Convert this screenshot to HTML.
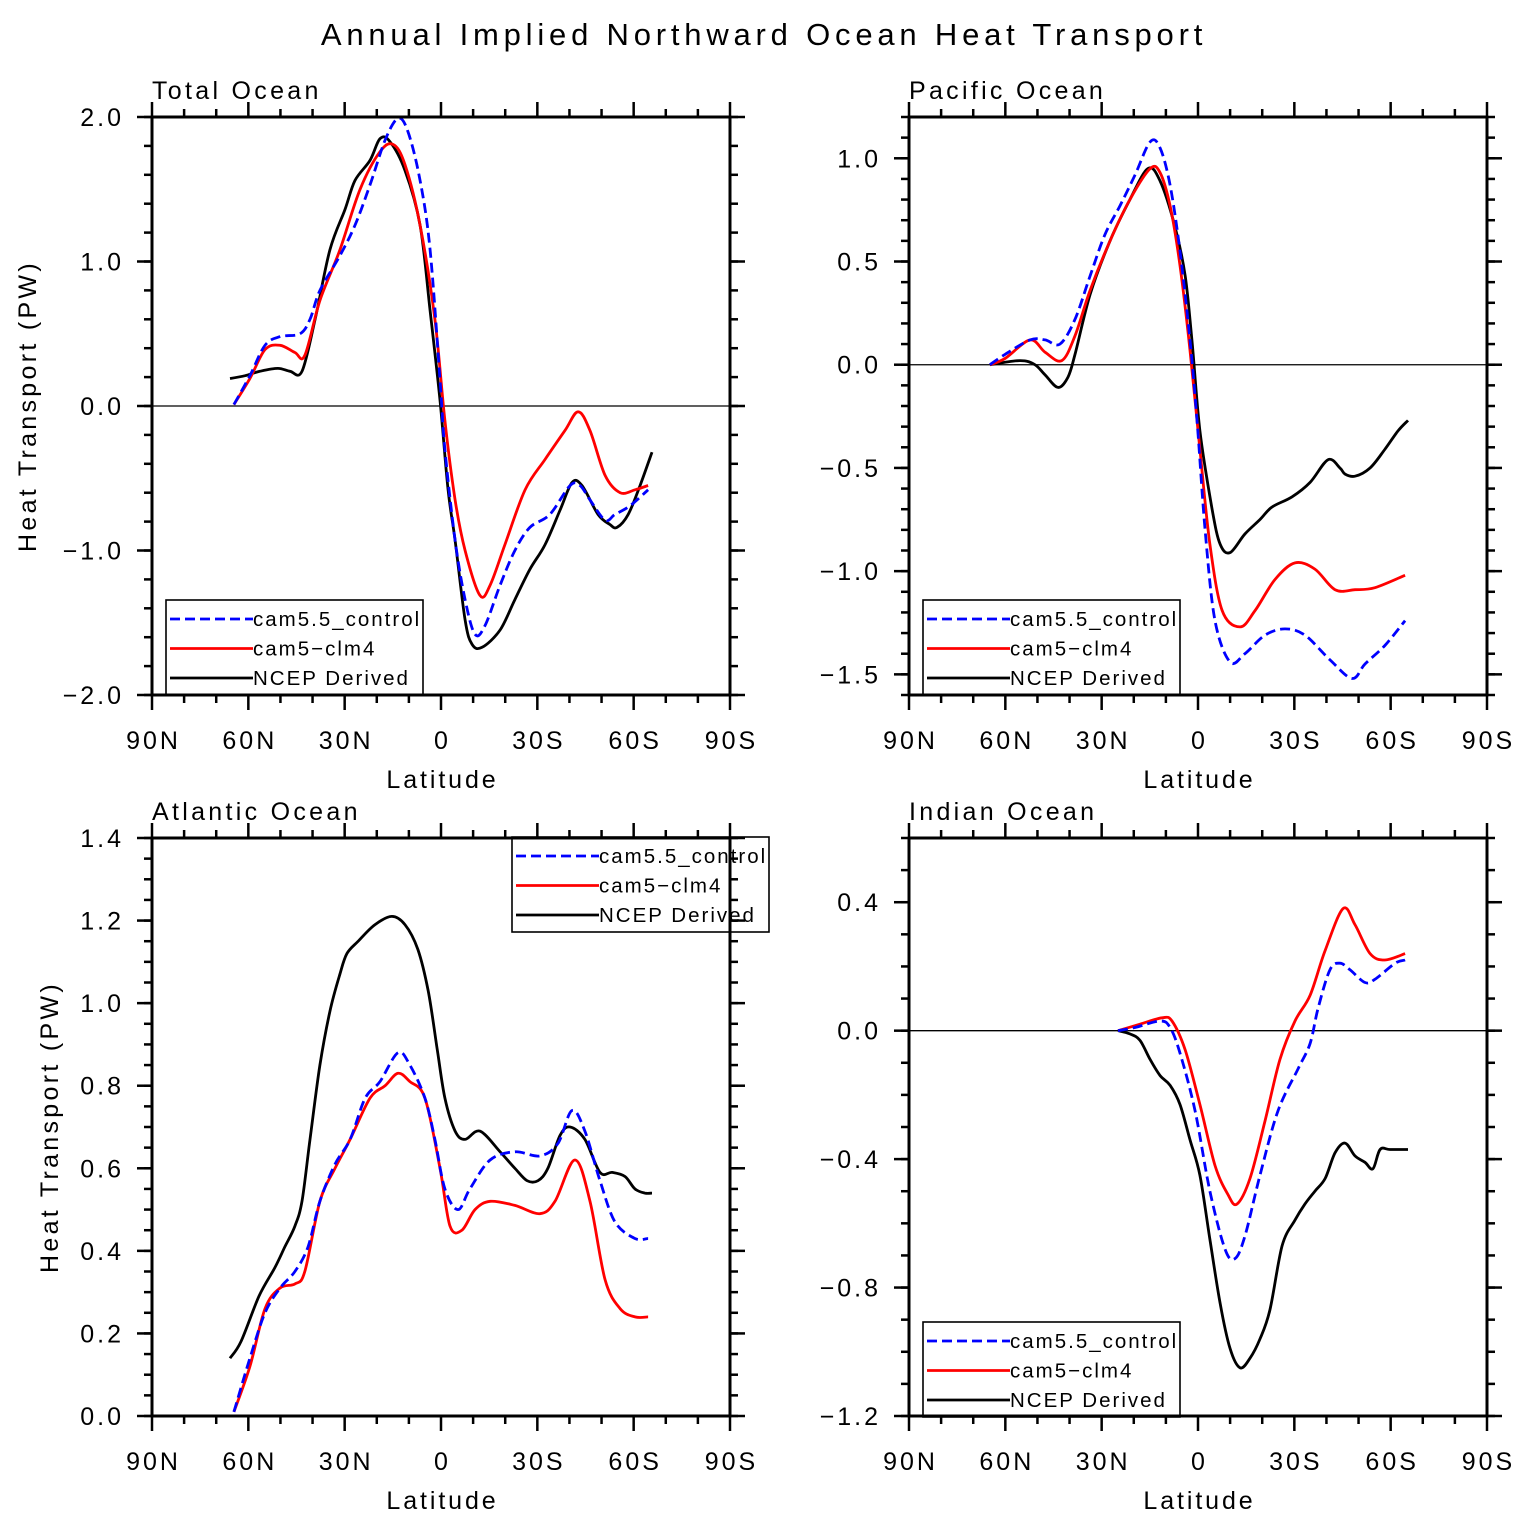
<!DOCTYPE html>
<html><head><meta charset="utf-8"><style>
html,body{margin:0;padding:0;background:#fff;}
svg{display:block;font-family:"Liberation Sans",sans-serif;}
</style></head><body>
<svg id="fig" width="1524" height="1527" viewBox="0 0 1524 1527" xmlns="http://www.w3.org/2000/svg">
<text x="764" y="45" text-anchor="middle" font-size="31" letter-spacing="4.8">Annual Implied Northward Ocean Heat Transport</text>
</svg>
<script>
// ---- Data (latitude in degrees, + = north) ----
// Total Ocean
const totBlueLat = [64.5,59.5,54.8,50.1,43.9,40.8,37.7,31.5,26.8,22.1,17.4,13.4,10.3,6.5,3.4,0.3,-1.2,-4.4,-7.5,-10.6,-13.7,-18.4,-23.0,-27.7,-33.9,-40.2,-43.3,-46.4,-51.1,-54.2,-58.9,-64.5];
const totBlueVal = [0.01,0.21,0.42,0.48,0.5,0.6,0.8,1.04,1.25,1.53,1.84,1.99,1.9,1.56,1.08,0.18,-0.3,-0.93,-1.34,-1.58,-1.52,-1.24,-1.0,-0.84,-0.75,-0.55,-0.55,-0.65,-0.79,-0.75,-0.69,-0.58];
const totRedLat = [64.5,59.5,54.8,50.1,45.5,42.4,37.7,31.5,25.2,19.0,14.9,11.2,6.5,1.9,-1.2,-4.4,-7.5,-12.1,-15.3,-19.9,-26.2,-32.4,-38.6,-42.7,-46.4,-51.1,-55.8,-60.4,-64.5];
const totRedVal = [0.01,0.19,0.39,0.42,0.37,0.35,0.73,1.08,1.5,1.76,1.81,1.67,1.25,0.6,-0.1,-0.65,-1.0,-1.31,-1.24,-0.96,-0.58,-0.37,-0.17,-0.04,-0.17,-0.48,-0.6,-0.58,-0.55];
const totBlackLat = [65.7,61.0,56.4,50.8,47.0,43.3,39.2,34.6,29.9,26.8,22.1,19.0,15.9,11.2,6.5,3.4,0.3,-2.2,-4.4,-7.5,-9.7,-12.8,-18.4,-23.0,-27.7,-32.4,-37.1,-40.8,-43.9,-48.9,-52.6,-54.8,-58.3,-62.0,-65.7];
const totBlackVal = [0.19,0.21,0.24,0.26,0.24,0.24,0.6,1.08,1.36,1.56,1.7,1.85,1.83,1.63,1.25,0.66,0.04,-0.58,-0.93,-1.48,-1.65,-1.67,-1.55,-1.34,-1.13,-0.96,-0.72,-0.53,-0.55,-0.75,-0.82,-0.84,-0.75,-0.55,-0.32];
// Pacific Ocean
const pacBlueLat = [64.8,60.1,52.3,47.6,43.0,38.3,33.6,29.0,24.3,19.6,14.9,11.8,8.7,5.6,2.5,0.3,-2.2,-5.3,-10.0,-14.6,-20.9,-27.1,-33.3,-41.1,-48.0,-52.0,-58.2,-64.5];
const pacBlueVal = [0,0.05,0.12,0.12,0.1,0.22,0.43,0.63,0.77,0.92,1.08,1.05,0.87,0.55,0.12,-0.27,-0.8,-1.24,-1.44,-1.4,-1.31,-1.28,-1.31,-1.43,-1.52,-1.45,-1.36,-1.24];
const pacRedLat = [64.8,60.1,52.3,47.6,42.4,38.3,33.6,27.4,21.2,14.9,11.8,8.7,5.6,2.5,-0.6,-3.7,-7.5,-13.1,-17.8,-24.0,-30.2,-36.4,-42.7,-48.9,-55.1,-64.5];
const pacRedVal = [0,0.03,0.12,0.06,0.02,0.14,0.36,0.6,0.8,0.95,0.93,0.77,0.48,0.07,-0.41,-0.87,-1.19,-1.27,-1.19,-1.04,-0.96,-0.99,-1.09,-1.09,-1.08,-1.02];
const pacBlackLat = [64.8,55.4,50.8,47.6,43.6,40.5,38.3,33.6,27.4,21.2,15.6,11.8,7.2,4.0,1.9,-0.6,-4.4,-6.9,-10.0,-14.6,-19.3,-23.0,-29.3,-34.9,-40.5,-44.2,-45.8,-48.9,-53.6,-58.2,-62.3,-65.4];
const pacBlackVal = [0,0.02,0,-0.05,-0.11,-0.06,0.05,0.34,0.6,0.8,0.95,0.89,0.67,0.43,0.12,-0.32,-0.7,-0.87,-0.91,-0.82,-0.75,-0.69,-0.64,-0.57,-0.46,-0.5,-0.53,-0.54,-0.5,-0.41,-0.32,-0.27];
// Atlantic Ocean
const atlBlueLat = [64.5,59.5,54.8,50.1,45.5,41.4,37.7,33.0,28.3,23.6,19.0,13.4,9.7,5.0,1.9,-1.2,-5.3,-9.0,-15.3,-23.0,-30.8,-36.4,-40.8,-44.8,-49.5,-54.2,-60.4,-64.5];
const atlBlueVal = [0.01,0.14,0.25,0.31,0.35,0.41,0.52,0.61,0.67,0.77,0.81,0.88,0.85,0.77,0.67,0.55,0.5,0.55,0.62,0.64,0.63,0.66,0.74,0.69,0.57,0.47,0.43,0.43];
const atlRedLat = [64.5,59.5,54.8,50.1,45.5,42.4,37.7,33.0,28.3,22.1,17.4,13.4,9.7,5.0,0.3,-2.8,-6.5,-10.6,-15.3,-23.0,-30.8,-35.5,-41.7,-46.4,-51.1,-55.8,-60.4,-64.5];
const atlRedVal = [0.01,0.12,0.26,0.31,0.32,0.35,0.52,0.6,0.67,0.77,0.8,0.83,0.81,0.77,0.6,0.46,0.45,0.5,0.52,0.51,0.49,0.52,0.62,0.52,0.33,0.26,0.24,0.24];
const atlBlackLat = [65.7,62.3,56.7,51.7,48.6,45.5,43.3,40.8,37.7,34.6,31.5,29.3,25.8,20.6,15.3,11.2,7.2,4.0,1.2,-1.2,-4.4,-7.5,-12.1,-18.4,-23.0,-26.8,-30.2,-33.3,-37.1,-40.2,-44.8,-49.5,-53.3,-57.3,-60.4,-63.5,-65.7];
const atlBlackVal = [0.14,0.18,0.29,0.36,0.41,0.46,0.52,0.67,0.85,0.98,1.07,1.12,1.15,1.19,1.21,1.19,1.13,1.03,0.89,0.77,0.69,0.67,0.69,0.64,0.6,0.57,0.57,0.6,0.68,0.7,0.67,0.59,0.59,0.58,0.55,0.54,0.54];
// Indian Ocean
const indBlueLat = [24.9,19.6,11.8,8.7,5.6,0.9,-3.7,-8.4,-11.5,-14.6,-19.3,-24.9,-31.1,-34.9,-37.4,-41.1,-44.2,-47.3,-52.0,-55.1,-61.4,-64.5];
const indBlueVal = [0,0.01,0.03,0.01,-0.07,-0.25,-0.5,-0.68,-0.71,-0.64,-0.45,-0.25,-0.12,-0.04,0.07,0.19,0.21,0.19,0.15,0.16,0.21,0.22];
const indRedLat = [24.9,18.1,11.2,8.1,4.0,-0.6,-5.3,-9.3,-12.1,-16.2,-20.9,-25.5,-30.2,-34.9,-39.6,-45.2,-48.9,-53.6,-58.2,-64.5];
const indRedVal = [0,0.02,0.04,0.03,-0.06,-0.23,-0.42,-0.51,-0.54,-0.46,-0.28,-0.09,0.03,0.11,0.25,0.38,0.33,0.24,0.22,0.24];
const indBlackLat = [24.9,21.2,18.1,14.9,11.8,8.7,5.6,2.5,-0.6,-3.7,-6.9,-10.0,-13.1,-16.2,-19.3,-22.4,-26.2,-30.2,-33.3,-36.4,-39.6,-42.7,-45.8,-48.9,-52.0,-54.5,-56.7,-59.8,-65.4];
const indBlackVal = [0,-0.01,-0.03,-0.09,-0.14,-0.17,-0.23,-0.34,-0.45,-0.65,-0.85,-0.99,-1.05,-1.02,-0.96,-0.87,-0.67,-0.59,-0.54,-0.5,-0.46,-0.38,-0.35,-0.39,-0.41,-0.43,-0.37,-0.37,-0.37];

const xTickLabels = ["90N","60N","30N","0","30S","60S","90S"];
const xTickLats = [90,60,30,0,-30,-60,-90];
const totYTicks = [-2.0,-1.0,0.0,1.0,2.0];
const pacYTicks = [-1.5,-1.0,-0.5,0.0,0.5,1.0];
const atlYTicks = [0.0,0.2,0.4,0.6,0.8,1.0,1.2,1.4];
const indYTicks = [-1.2,-0.8,-0.4,0.0,0.4];

const NS = "http://www.w3.org/2000/svg";
const svg = document.getElementById('fig');
function mk(tag, attrs, parent){const e=document.createElementNS(NS,tag);for(const k in attrs)e.setAttribute(k,attrs[k]);(parent||svg).appendChild(e);return e;}

function smoothPath(pts){
  let d='M'+pts[0][0].toFixed(1)+','+pts[0][1].toFixed(1);
  for(let i=0;i<pts.length-1;i++){
    const p0=pts[Math.max(i-1,0)],p1=pts[i],p2=pts[i+1],p3=pts[Math.min(i+2,pts.length-1)];
    const c1=[p1[0]+(p2[0]-p0[0])/6,p1[1]+(p2[1]-p0[1])/6];
    const c2=[p2[0]-(p3[0]-p1[0])/6,p2[1]-(p3[1]-p1[1])/6];
    d+=' C'+c1[0].toFixed(1)+','+c1[1].toFixed(1)+' '+c2[0].toFixed(1)+','+c2[1].toFixed(1)+' '+p2[0].toFixed(1)+','+p2[1].toFixed(1);
  }
  return d;
}

function panel(cfg){
  const g=mk('g',{});
  
  
  const L=cfg.x0,R=cfg.x0+578,T=cfg.y0,B=cfg.y0+578;
  const xs=lat=>L+(90-lat)/180*578;
  const ys=v=>B-(v-cfg.ymin)/(cfg.ymax-cfg.ymin)*578;
  if(cfg.ymin<0&&cfg.ymax>0){
    const z=mk('line',{x1:L,x2:R+15,y1:ys(0),y2:ys(0),stroke:'#000','stroke-width':1.3},g);
    
    
  }
  const series=[[cfg.black,'#000',null,'ncep-line'],[cfg.red,'#f00',null,'cam5-clm4-line'],[cfg.blue,'#00f','10,5','cam5.5-control-line']];
  series.forEach(s=>{
    const pts=s[0][0].map((lat,i)=>[xs(lat),ys(s[0][1][i])]);
    const p=mk('path',{d:smoothPath(pts),fill:'none',stroke:s[1],'stroke-width':2.8,'stroke-linejoin':'round'},g);
    if(s[2])p.setAttribute('stroke-dasharray',s[2]);
    
    
  });
  const f=mk('rect',{x:L,y:T,width:578,height:578,fill:'none',stroke:'#000','stroke-width':3},g);
  
  
  for(let lat=90;lat>=-90;lat-=10){
    const x=xs(lat),maj=lat%30===0,len=maj?15:8;
    mk('line',{x1:x,x2:x,y1:B,y2:B+len,stroke:'#000','stroke-width':2.5},g);
    mk('line',{x1:x,x2:x,y1:T,y2:T-len,stroke:'#000','stroke-width':2.5},g);
  }
  xTickLats.forEach((lat,i)=>{
    const t=mk('text',{x:xs(lat)+1.5,y:B+54,'text-anchor':'middle','font-size':25,'letter-spacing':3},g);
    t.textContent=xTickLabels[i];
    
    
  });
  const nMin=Math.round((cfg.ymax-cfg.ymin)/cfg.minor);
  for(let i=0;i<=nMin;i++){
    const y=ys(cfg.ymin+i*cfg.minor);
    mk('line',{x1:L,x2:L-8,y1:y,y2:y,stroke:'#000','stroke-width':2.5},g);
    mk('line',{x1:R,x2:R+8,y1:y,y2:y,stroke:'#000','stroke-width':2.5},g);
  }
  cfg.ticks.forEach(v=>{
    const y=ys(v);
    mk('line',{x1:L,x2:L-15,y1:y,y2:y,stroke:'#000','stroke-width':2.5},g);
    mk('line',{x1:R,x2:R+15,y1:y,y2:y,stroke:'#000','stroke-width':2.5},g);
    const t=mk('text',{x:L-28,y:y+9,'text-anchor':'end','font-size':25,'letter-spacing':3},g);
    t.textContent=(v<0?'\u2212':'')+Math.abs(v).toFixed(1);
    
    
  });
  const tt=mk('text',{x:L,y:T-18,'font-size':25,'letter-spacing':3.3},g);
  tt.textContent=cfg.title;
  
  
  const xl=mk('text',{x:(L+R)/2+1.5,y:B+93,'text-anchor':'middle','font-size':25,'letter-spacing':2.9},g);
  xl.textContent='Latitude';
  
  
  if(cfg.ylab){
    const yl=mk('text',{x:0,y:0,'text-anchor':'middle','font-size':25,'letter-spacing':3.3,transform:'translate('+cfg.ylab+','+((T+B)/2)+') rotate(-90)'},g);
    yl.textContent='Heat Transport (PW)';
    
    
  }
  const lg=mk('g',{},g);
  
  
  const lx=cfg.leg[0],ly=cfg.leg[1];
  mk('rect',{x:lx,y:ly,width:257,height:95,fill:'none',stroke:'#000','stroke-width':1.6},lg);
  const items=[['#00f','10,5','cam5.5_control'],['#f00',null,'cam5\u2212clm4'],['#000',null,'NCEP Derived']];
  items.forEach((it,i)=>{
    const y=ly+19+i*29.5;
    const ln=mk('line',{x1:lx+4,x2:lx+87,y1:y,y2:y,stroke:it[0],'stroke-width':2.8},lg);
    if(it[1])ln.setAttribute('stroke-dasharray',it[1]);
    const t=mk('text',{x:lx+87,y:y+7,'font-size':20.5,'letter-spacing':2},lg);
    t.textContent=it[2];
    
    
  });
}

panel({name:'total-ocean-panel',title:'Total Ocean',x0:152,y0:117,ymin:-2,ymax:2,minor:0.2,ticks:totYTicks,ylab:36,leg:[166,600],
  blue:[totBlueLat,totBlueVal],red:[totRedLat,totRedVal],black:[totBlackLat,totBlackVal]});
panel({name:'pacific-ocean-panel',title:'Pacific Ocean',x0:909,y0:117,ymin:-1.6,ymax:1.2,minor:0.1,ticks:pacYTicks,ylab:null,leg:[923,600],
  blue:[pacBlueLat,pacBlueVal],red:[pacRedLat,pacRedVal],black:[pacBlackLat,pacBlackVal]});
panel({name:'atlantic-ocean-panel',title:'Atlantic Ocean',x0:152,y0:838,ymin:0,ymax:1.4,minor:0.05,ticks:atlYTicks,ylab:58,leg:[512,837],
  blue:[atlBlueLat,atlBlueVal],red:[atlRedLat,atlRedVal],black:[atlBlackLat,atlBlackVal]});
panel({name:'indian-ocean-panel',title:'Indian Ocean',x0:909,y0:838,ymin:-1.2,ymax:0.6,minor:0.1,ticks:indYTicks,ylab:null,leg:[923,1322],
  blue:[indBlueLat,indBlueVal],red:[indRedLat,indRedVal],black:[indBlackLat,indBlackVal]});
</script>
</body></html>
